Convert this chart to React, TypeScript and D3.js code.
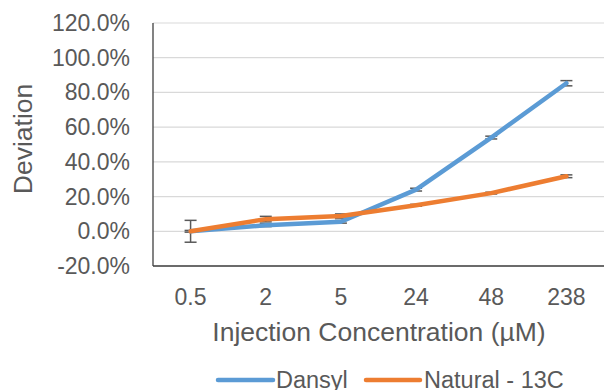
import React from "react";
import * as d3 from "d3";

const categories = ["0.5", "2", "5", "24", "48", "238"];
const dansyl = [0.0, 3.5, 5.5, 24.0, 54.0, 85.3];
const dansylErr = [6.3, 0.8, 0.8, 0.8, 0.8, 1.5];
const natural = [0.0, 7.0, 8.8, 15.0, 22.0, 31.7];
const naturalErr = [0.5, 1.6, 1.2, 0.5, 0.5, 0.8];
const yTicks = [-20, 0, 20, 40, 60, 80, 100, 120];
const seriesNames = ["Dansyl", "Natural - 13C"];
const colors = ["#5B9BD5", "#ED7D31"];

const W = 604;
const H = 390;
const plot = { left: 153, right: 604, top: 23, bottom: 266 };
const FONT = "'Liberation Sans', Arial, sans-serif";
const TEXT = "#595959";

export default function App() {
  const x = d3.scaleBand<string>().domain(categories).range([plot.left, plot.right]).padding(0);
  const y = d3.scaleLinear().domain([-20, 120]).range([plot.bottom, plot.top]);
  const cx = (c: string) => (x(c) as number) + x.bandwidth() / 2;
  const line = d3
    .line<number>()
    .x((_, i) => cx(categories[i]))
    .y((d) => y(d));

  const series = [
    { vals: dansyl, err: dansylErr },
    { vals: natural, err: naturalErr },
  ];

  return (
    <svg
      width={W}
      height={H}
      style={{ position: "absolute", left: 0, top: 0, background: "#fff" }}
      fontFamily={FONT}
    >
      {yTicks.map((t) => (
        <line key={"g" + t} x1={plot.left} x2={plot.right} y1={y(t)} y2={y(t)} stroke="#d9d9d9" strokeWidth={1.2} />
      ))}
      {yTicks.map((t) => (
        <text key={"yt" + t} x={130} y={y(t)} dy="0.35em" textAnchor="end" fontSize={23} fill={TEXT}>
          {t.toFixed(1) + "%"}
        </text>
      ))}
      <line x1={plot.left} x2={plot.left} y1={plot.top} y2={plot.bottom} stroke="#404040" strokeWidth={1.3} />
      <line x1={plot.left} x2={plot.right} y1={plot.bottom} y2={plot.bottom} stroke="#404040" strokeWidth={1.5} />
      {categories.map((c) => (
        <text key={"xt" + c} x={cx(c)} y={297} dy="0.35em" textAnchor="middle" fontSize={23} fill={TEXT}>
          {c}
        </text>
      ))}
      <text x={379} y={332} dy="0.35em" textAnchor="middle" fontSize={26.5} fill={TEXT}>
        Injection Concentration (µM)
      </text>
      <text
        transform={`translate(23,139) rotate(-90)`}
        dy="0.35em"
        textAnchor="middle"
        fontSize={26.5}
        fill={TEXT}
      >
        Deviation
      </text>
      {series.map((s, si) =>
        s.vals.map((v, i) => {
          const px = cx(categories[i]);
          const e = s.err[i];
          return (
            <g key={"e" + si + i} stroke="#595959" strokeWidth={1.5}>
              <line x1={px} x2={px} y1={y(v - e)} y2={y(v + e)} />
              <line x1={px - 6} x2={px + 6} y1={y(v - e)} y2={y(v - e)} />
              <line x1={px - 6} x2={px + 6} y1={y(v + e)} y2={y(v + e)} />
            </g>
          );
        })
      )}
      {series.map((s, si) => (
        <path
          key={"l" + si}
          d={line(s.vals) as string}
          fill="none"
          stroke={colors[si]}
          strokeWidth={4.5}
          strokeLinejoin="round"
          strokeLinecap="round"
        />
      ))}
      <g>
        <line x1={218} x2={273} y1={380} y2={380} stroke={colors[0]} strokeWidth={4.5} strokeLinecap="round" />
        <text x={276} y={380} dy="0.35em" fontSize={23.5} fill={TEXT}>
          {seriesNames[0]}
        </text>
        <line x1={366} x2={420} y1={380} y2={380} stroke={colors[1]} strokeWidth={4.5} strokeLinecap="round" />
        <text x={424} y={380} dy="0.35em" fontSize={23.5} fill={TEXT}>
          {seriesNames[1]}
        </text>
      </g>
    </svg>
  );
}
